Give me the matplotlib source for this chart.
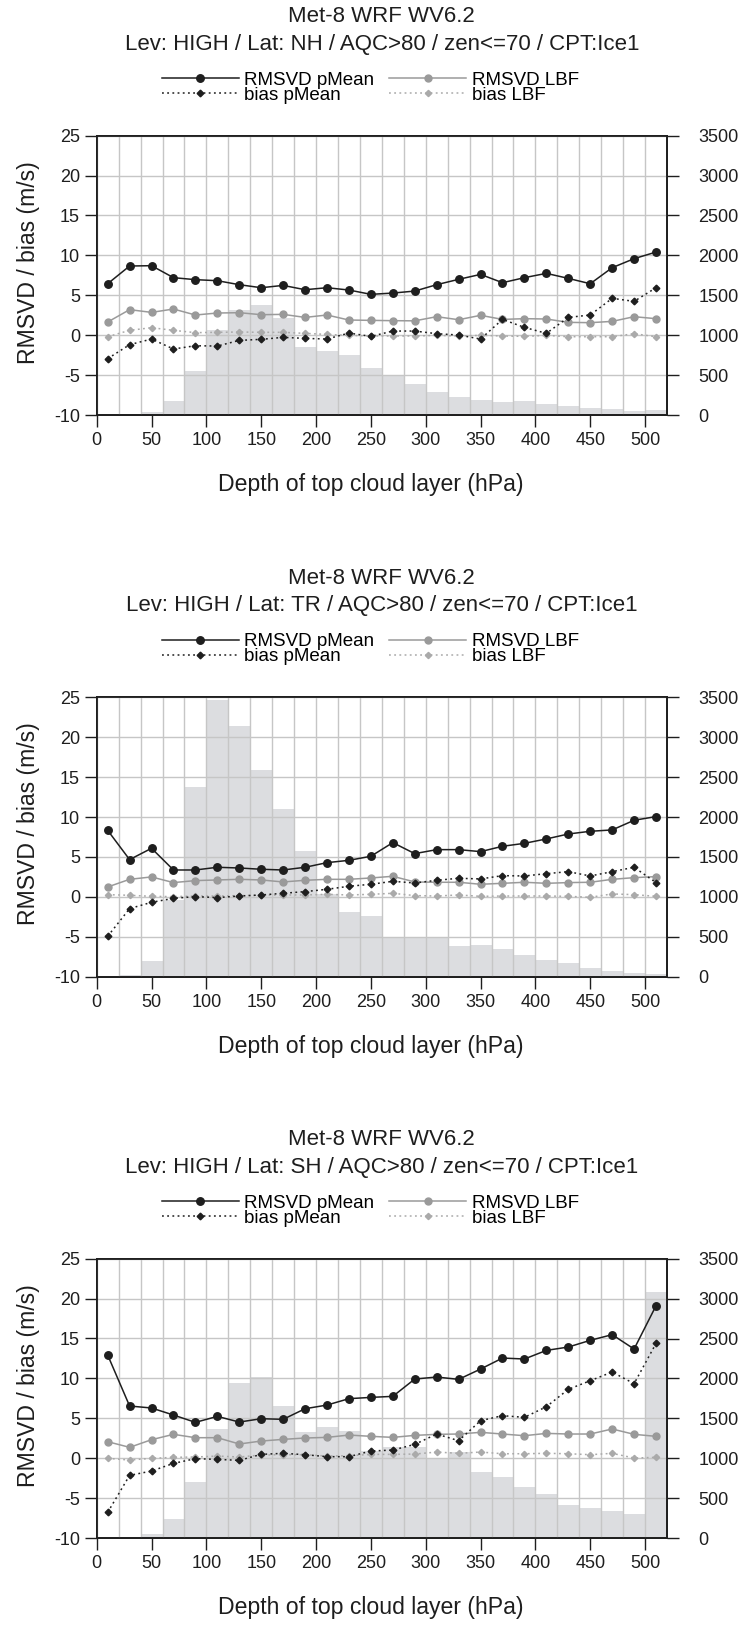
import matplotlib
matplotlib.use("Agg")
import matplotlib.pyplot as plt
from matplotlib.ticker import MultipleLocator

plt.rcParams['font.family'] = ['Liberation Sans', 'DejaVu Sans']
plt.rcParams['axes.unicode_minus'] = False

# bin centres of the top-cloud-layer depth classes (hPa)
depth = [10, 30, 50, 70, 90, 110, 130, 150, 170, 190, 210, 230, 250,
         270, 290, 310, 330, 350, 370, 390, 410, 430, 450, 470, 490, 510]

# Northern hemisphere
nh_rms_pmean = [6.45, 8.67, 8.71, 7.21, 6.96, 6.83, 6.33, 5.95, 6.24, 5.70, 5.95, 5.66, 5.12,
                5.28, 5.53, 6.33, 7.00, 7.62, 6.58, 7.21, 7.75, 7.12, 6.45, 8.46, 9.59, 10.42]
nh_rms_lbf = [1.65, 3.20, 2.86, 3.28, 2.53, 2.78, 2.82, 2.57, 2.61, 2.23, 2.53, 1.90, 1.86,
              1.82, 1.80, 2.32, 1.94, 2.49, 1.98, 2.07, 2.03, 1.61, 1.57, 1.73, 2.32, 2.07]
nh_bias_pmean = [-2.94, -1.19, -0.48, -1.73, -1.32, -1.36, -0.65, -0.52, -0.27, -0.40, -0.48, 0.27, -0.15,
                 0.52, 0.52, 0.19, 0.02, -0.48, 1.98, 0.98, 0.23, 2.23, 2.53, 4.62, 4.24, 5.95]
nh_bias_lbf = [-0.19, 0.61, 0.94, 0.61, 0.32, 0.36, 0.40, 0.36, 0.36, 0.23, 0.10, -0.02, -0.10,
               -0.10, -0.10, -0.02, -0.10, -0.02, -0.10, -0.15, -0.02, -0.19, -0.19, -0.19, 0.19, -0.19]
nh_count = [0, 12, 38, 175, 556, 1061, 1316, 1378, 1211, 852, 806, 752, 585,
            501, 388, 292, 230, 188, 163, 175, 134, 113, 88, 75, 50, 63]

# Tropics
tr_rms_pmean = [8.33, 4.66, 6.08, 3.36, 3.36, 3.70, 3.61, 3.45, 3.36, 3.70, 4.28, 4.57, 5.08,
                6.79, 5.41, 5.91, 5.91, 5.66, 6.33, 6.70, 7.25, 7.87, 8.21, 8.38, 9.59, 10.05]
tr_rms_lbf = [1.23, 2.19, 2.49, 1.78, 2.03, 2.11, 2.19, 2.11, 1.86, 2.07, 2.19, 2.19, 2.36,
              2.57, 1.86, 1.82, 1.82, 1.57, 1.69, 1.82, 1.69, 1.78, 1.82, 2.19, 2.40, 2.53]
tr_bias_pmean = [-4.95, -1.48, -0.69, -0.19, 0.02, -0.10, 0.10, 0.23, 0.44, 0.65, 0.94, 1.32, 1.57,
                 1.94, 1.73, 2.07, 2.32, 2.24, 2.65, 2.61, 2.90, 3.15, 2.61, 3.15, 3.70, 1.78]
tr_bias_lbf = [0.27, 0.19, 0.06, 0.02, 0.10, 0.10, 0.15, 0.19, 0.23, 0.23, 0.31, 0.23, 0.31,
               0.44, 0.15, 0.10, 0.23, 0.06, 0.10, 0.10, 0.10, 0.06, -0.06, 0.36, 0.27, 0.06]
tr_count = [0, 17, 192, 960, 2377, 3467, 3141, 2586, 2097, 1579, 1030, 815, 760,
            501, 501, 501, 384, 401, 343, 271, 209, 167, 109, 75, 42, 29]

# Southern hemisphere
sh_rms_pmean = [12.93, 6.54, 6.29, 5.41, 4.49, 5.24, 4.53, 4.95, 4.87, 6.20, 6.66, 7.46, 7.62,
                7.75, 9.92, 10.17, 9.88, 11.17, 12.55, 12.43, 13.51, 13.93, 14.77, 15.48, 13.68, 19.11]
sh_rms_lbf = [2.07, 1.36, 2.32, 2.99, 2.57, 2.57, 1.78, 2.15, 2.36, 2.53, 2.61, 2.90, 2.74,
              2.61, 2.86, 2.99, 3.03, 3.24, 3.03, 2.82, 3.11, 3.03, 3.03, 3.66, 2.99, 2.74]
sh_bias_pmean = [-6.79, -2.15, -1.61, -0.65, -0.06, -0.15, -0.27, 0.48, 0.61, 0.44, 0.19, 0.19, 0.90,
                 1.02, 1.73, 3.03, 2.19, 4.70, 5.33, 5.12, 6.45, 8.63, 9.71, 10.80, 9.34, 14.39]
sh_bias_lbf = [-0.02, -0.23, -0.02, 0.11, 0.15, 0.27, 0.15, 0.40, 0.44, 0.44, 0.27, 0.31, 0.48,
               0.48, 0.52, 0.77, 0.61, 0.77, 0.56, 0.56, 0.61, 0.56, 0.44, 0.61, 0.02, 0.11]
sh_count = [0, 0, 50, 234, 706, 1362, 1938, 2022, 1658, 1328, 1387, 1341, 1090,
            1136, 1136, 986, 1082, 831, 769, 635, 547, 414, 380, 343, 301, 3087]

regions = ['NH', 'TR', 'SH']
panels = {
    'NH': (nh_rms_pmean, nh_rms_lbf, nh_bias_pmean, nh_bias_lbf, nh_count),
    'TR': (tr_rms_pmean, tr_rms_lbf, tr_bias_pmean, tr_bias_lbf, tr_count),
    'SH': (sh_rms_pmean, sh_rms_lbf, sh_bias_pmean, sh_bias_lbf, sh_count),
}

BAR = '#dcdde0'
GRID = '#c6c6c6'
DARK = '#1e1e1e'
MID = '#9a9a9a'
LIGHT = '#aaaaaa'
DOTS = (0, (1.2, 2.2))

W, H = 745, 1626
fig = plt.figure(figsize=(W / 100, H / 100), dpi=100)

left, right = 96.7, 667.0
ax_h = 279.3
tops = [135.7, 697.3, 1258.7]


def draw_panel(top, reg):
    rms_p, rms_l, bias_p, bias_l, count = panels[reg]
    rect = [left / W, 1 - (top + ax_h) / H, (right - left) / W, ax_h / H]

    # counts on the right-hand axis, drawn underneath everything else
    axb = fig.add_axes(rect)
    axb.bar(depth, count, width=20, color=BAR, edgecolor='none', zorder=1)

    axl = axb.twinx()
    axl.xaxis.set_visible(True)
    axl.yaxis.tick_left()
    axl.yaxis.set_label_position('left')
    axb.yaxis.tick_right()
    axl.set_axisbelow(True)

    axb.set_ylim(0, 3500)
    axb.yaxis.set_major_locator(MultipleLocator(500))
    axb.tick_params(axis='y', labelsize=13, length=8.5, width=1, pad=14, colors=DARK,
                    left=False, labelleft=False, right=True, labelright=True)
    axb.tick_params(axis='x', which='both', bottom=False, labelbottom=False)

    axl.plot(depth, rms_l, color=MID, lw=1.1, marker='o', ms=5.0, label='RMSVD LBF', zorder=3)
    axl.plot(depth, bias_l, color=LIGHT, lw=1.1, ls=DOTS, marker='D', ms=3.2, label='bias LBF', zorder=3)
    axl.plot(depth, bias_p, color=DARK, lw=1.1, ls=DOTS, marker='D', ms=3.4, label='bias pMean', zorder=4)
    axl.plot(depth, rms_p, color=DARK, lw=1.1, marker='o', ms=5.4, label='RMSVD pMean', zorder=5)

    axl.set_xlim(0, 520)
    axl.set_ylim(-10, 25)
    axl.yaxis.set_major_locator(MultipleLocator(5))
    axl.xaxis.set_major_locator(MultipleLocator(50))
    axl.xaxis.set_minor_locator(MultipleLocator(20))
    axl.xaxis.remove_overlapping_locs = False
    axl.grid(which='minor', axis='x', color=GRID, lw=1.0)
    axl.grid(which='major', axis='y', color=GRID, lw=1.0)
    axl.tick_params(axis='both', which='major', labelsize=13, length=8.5, width=1,
                    colors=DARK, direction='out')
    axl.tick_params(axis='y', pad=3.5, right=False, labelright=False)
    axl.tick_params(axis='x', pad=4, bottom=True, labelbottom=True, top=False, labeltop=False)
    axl.tick_params(axis='x', which='minor', length=0)

    for ax in (axb, axl):
        for s in ax.spines.values():
            s.set_color(DARK)
            s.set_linewidth(1.3)

    axl.set_ylabel('RMSVD / bias (m/s)', fontsize=16.6, color=DARK)
    axl.yaxis.set_label_coords(-0.100, 0.547)
    axl.set_xlabel('Depth of top cloud layer (hPa)', fontsize=16.6, color=DARK)
    axl.xaxis.set_label_coords(0.481, -0.208)

    axl.annotate('Met-8 WRF WV6.2', xy=(0.5, 1), xycoords='axes fraction',
                 xytext=(0, 85.5), textcoords='offset points', ha='center', va='center',
                 fontsize=16, color=DARK)
    axl.annotate('Lev: HIGH / Lat: %s / AQC>80 / zen<=70 / CPT:Ice1' % reg,
                 xy=(0.5, 1), xycoords='axes fraction',
                 xytext=(0, 66), textcoords='offset points', ha='center', va='center',
                 fontsize=16, color=DARK)

    h = {l.get_label(): l for l in axl.get_lines()}
    order = ['RMSVD pMean', 'bias pMean', 'RMSVD LBF', 'bias LBF']
    axl.legend([h[k] for k in order], order, ncol=2, loc='center',
               bbox_to_anchor=(0.48, 1.172), frameon=False, fontsize=13.5,
               handlelength=4.1, handletextpad=0.3, columnspacing=0.8,
               labelspacing=-0.12, numpoints=1, borderpad=0)


for top, reg in zip(tops, regions):
    draw_panel(top, reg)

fig.savefig('out.png', dpi=100)
